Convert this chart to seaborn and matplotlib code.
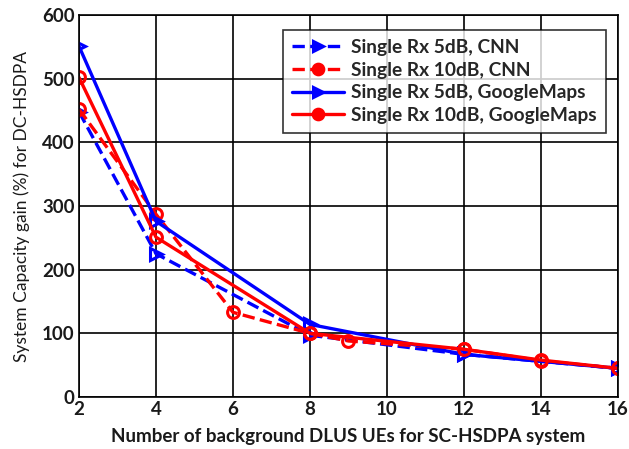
import matplotlib
matplotlib.use("Agg")
import matplotlib.pyplot as plt
import seaborn as sns
import pandas as pd

# Data
x_5db_cnn = [2, 4, 8, 12, 16]
y_5db_cnn = [448, 225, 97, 67, 45]

x_10db_cnn = [2, 4, 6, 8, 9, 12, 14, 16]
y_10db_cnn = [452, 287, 133, 100, 88, 75, 57, 45]

x_5db_gm = [2, 4, 8, 12, 16]
y_5db_gm = [551, 276, 114, 67, 45]

x_10db_gm = [2, 4, 8, 12, 14, 16]
y_10db_gm = [502, 251, 100, 75, 58, 45]

labels = ["Single Rx 5dB, CNN", "Single Rx 10dB, CNN",
          "Single Rx 5dB, GoogleMaps", "Single Rx 10dB, GoogleMaps"]
x_ticks = [2, 4, 6, 8, 10, 12, 14, 16]
y_ticks = [0, 100, 200, 300, 400, 500, 600]

sns.set_theme(style="white")
plt.rcParams['font.family'] = ['Lato', 'DejaVu Sans']

fig = plt.figure(figsize=(6.29, 4.49), dpi=100)
ax = fig.add_axes([0.1256, 0.1158, 0.8569, 0.8508])

series = [
    (x_5db_cnn, y_5db_cnn, "#0000ff", "--", ">"),
    (x_10db_cnn, y_10db_cnn, "#ff0000", "--", "o"),
    (x_5db_gm, y_5db_gm, "#0000ff", "-", ">"),
    (x_10db_gm, y_10db_gm, "#ff0000", "-", "o"),
]
for (xs, ys, col, ls, mk), lab in zip(series, labels):
    df = pd.DataFrame({"x": xs, "y": ys})
    sns.lineplot(data=df, x="x", y="y", ax=ax, color=col, linestyle=ls,
                 marker=mk, markersize=8.5, markeredgewidth=2.2,
                 markerfacecolor="none", markeredgecolor=col,
                 linewidth=2.4, label=lab)

ax.set_xlim(2, 16)
ax.set_ylim(0, 600)
ax.set_xticks(x_ticks)
ax.set_yticks(y_ticks)
ax.grid(True, color="black", linewidth=1.2, linestyle="-")
ax.tick_params(direction="in", length=4, colors="black", labelsize=13.5,
               pad=3)
for lbl in ax.get_xticklabels() + ax.get_yticklabels():
    lbl.set_fontweight("bold")
    lbl.set_color("#1a1a1a")
for sp in ax.spines.values():
    sp.set_color("black")
    sp.set_linewidth(1.2)

ax.set_xlabel("Number of background DLUS UEs for SC-HSDPA system",
              fontsize=13.5, fontweight="bold", color="#1a1a1a", labelpad=7)
ax.set_ylabel("System Capacity gain (%) for DC-HSDPA",
              fontsize=12.5, color="#1a1a1a", labelpad=9)

leg = ax.legend(loc="upper right", bbox_to_anchor=(0.995, 0.985),
                prop={"family": "Lato", "weight": "bold", "size": 13.8},
                frameon=True, fancybox=False, handlelength=2.7,
                borderpad=0.45, labelspacing=0.3, handletextpad=0.4,
                markerscale=0.9)
leg.get_frame().set_edgecolor("black")
leg.get_frame().set_linewidth(1.2)
for h in leg.legend_handles:
    h.set_markerfacecolor(h.get_color())

fig.savefig("out.png", dpi=100)
